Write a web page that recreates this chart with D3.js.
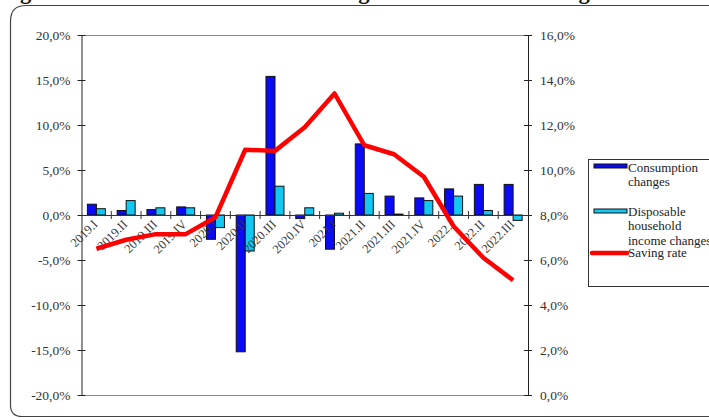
<!DOCTYPE html>
<html>
<head>
<meta charset="utf-8">
<script src="https://cdn.jsdelivr.net/npm/d3@7"></script>
<style>
  html, body { margin: 0; padding: 0; background: #fff; }
  svg { display: block; }
  svg text { font-family: "Liberation Serif", "Times New Roman", serif; }
</style>
</head>
<body>
<svg id="chart" width="709" height="420"></svg>
<script>
const categories = ["2019.I","2019.II","2019.III","2019.IV","2020.I","2020.II","2020.III","2020.IV",
                    "2021.I","2021.II","2021.III","2021.IV","2022.I","2022.II","2022.III"];
const consumptionChanges = [0.012, 0.005, 0.006, 0.009, -0.027, -0.152, 0.154, -0.004,
                            -0.038, 0.079, 0.021, 0.019, 0.029, 0.034, 0.034];
const incomeChanges = [0.007, 0.016, 0.008, 0.008, -0.014, -0.040, 0.032, 0.008,
                       0.002, 0.024, 0.001, 0.016, 0.021, 0.005, -0.006];
const savingRate = [0.065, 0.069, 0.0715, 0.0715, 0.079, 0.109, 0.1085, 0.119,
                    0.134, 0.111, 0.107, 0.097, 0.075, 0.061, 0.051];
const leftTicks = [-0.20, -0.15, -0.10, -0.05, 0, 0.05, 0.10, 0.15, 0.20];
const rightTicks = [0, 0.02, 0.04, 0.06, 0.08, 0.10, 0.12, 0.14, 0.16];
const legendLabels = [["Consumption", "changes"], ["Disposable", "household", "income changes"], ["Saving rate"]];
const titleText = "Figure 4 \u2013 Contributions to the Portuguese Household Saving Rate";

const locale = d3.formatLocale({decimal: ",", thousands: ".", grouping: [3], currency: ["", "\u20ac"], minus: "-"});
const fmt = locale.format(".1%");

const svg = d3.select("#chart");
const L = 81.5, R = 528, T = 35, B = 395;

// clipped title + frame
svg.append("text").attr("x", 0).attr("y", -1.5)
  .attr("font-size", 22.5).attr("font-weight", "bold").attr("fill", "#111")
  .text(titleText);
svg.append("path")
  .attr("d", `M 715 5.5 L 26 5.5 Q 10.5 5.5 10.5 21 L 10.5 405 Q 10.5 416.5 22 416.5 L 715 416.5`)
  .attr("fill", "none").attr("stroke", "#444").attr("stroke-width", 1.2);

const x = d3.scaleBand().domain(categories).range([L, R]).paddingInner(0).paddingOuter(0);
const xSub = d3.scaleBand().domain(["c", "d"]).range([-9, 9]);
const yL = d3.scaleLinear().domain([-0.20, 0.20]).range([B, T]);
const yR = d3.scaleLinear().domain([0, 0.16]).range([B, T]);

// plot area top / bottom lines
svg.append("line").attr("x1", L).attr("x2", R).attr("y1", T + 0.5).attr("y2", T + 0.5).attr("stroke", "#888");
svg.append("line").attr("x1", L).attr("x2", R).attr("y1", B + 0.5).attr("y2", B + 0.5).attr("stroke", "#888");

// left axis
const axL = svg.append("g").attr("transform", `translate(${L},0)`)
  .call(d3.axisLeft(yL).tickValues(leftTicks).tickFormat(fmt).tickSizeInner(4).tickSizeOuter(0).tickPadding(7));
axL.attr("font-family", null);
axL.select(".domain").attr("stroke", "#222");
axL.selectAll(".tick line").attr("x1", 4).attr("x2", -4).attr("stroke", "#222");
axL.selectAll(".tick text").attr("font-size", 13.5).attr("fill", "#333");

// right axis
const axR = svg.append("g").attr("transform", `translate(${R},0)`)
  .call(d3.axisRight(yR).tickValues(rightTicks).tickFormat(fmt).tickSizeInner(4).tickSizeOuter(0).tickPadding(8));
axR.attr("font-family", null);
axR.select(".domain").attr("stroke", "#222");
axR.selectAll(".tick line").attr("x1", -4).attr("x2", 4).attr("stroke", "#222");
axR.selectAll(".tick text").attr("font-size", 13.5).attr("fill", "#333");

// bars
const g = svg.append("g");
g.selectAll("rect.c").data(categories).join("rect").attr("class", "c")
  .attr("x", (d) => x(d) + x.bandwidth() / 2 + xSub("c"))
  .attr("width", xSub.bandwidth())
  .attr("y", (d, i) => yL(Math.max(0, consumptionChanges[i])))
  .attr("height", (d, i) => Math.abs(yL(consumptionChanges[i]) - yL(0)))
  .attr("fill", "#0a0af5").attr("stroke", "#111").attr("stroke-width", 1);
g.selectAll("rect.d").data(categories).join("rect").attr("class", "d")
  .attr("x", (d) => x(d) + x.bandwidth() / 2 + xSub("d"))
  .attr("width", xSub.bandwidth())
  .attr("y", (d, i) => yL(Math.max(0, incomeChanges[i])))
  .attr("height", (d, i) => Math.abs(yL(incomeChanges[i]) - yL(0)))
  .attr("fill", "#12c8f2").attr("stroke", "#111").attr("stroke-width", 1);

// zero axis
const axX = svg.append("g").attr("transform", `translate(0,${yL(0)})`)
  .call(d3.axisBottom(x).tickSize(0).tickFormat(""));
axX.select(".domain").attr("stroke", "#333");
axX.selectAll(".tick").remove();
svg.append("g").selectAll("line").data(categories.slice(1)).join("line")
  .attr("x1", (d) => x(d)).attr("x2", (d) => x(d))
  .attr("y1", yL(0) - 4).attr("y2", yL(0) + 4).attr("stroke", "#333");

// category labels
svg.append("g").selectAll("text").data(categories).join("text")
  .attr("transform", (d) => `translate(${x(d) + x.bandwidth() / 2 + 2},${yL(0) + 10}) rotate(-45)`)
  .attr("text-anchor", "end").attr("font-size", 12.5).attr("fill", "#333")
  .text((d) => d);

// saving rate line
svg.append("path").datum(savingRate)
  .attr("d", d3.line().x((d, i) => x(categories[i]) + x.bandwidth() / 2).y((d) => yR(d)))
  .attr("fill", "none").attr("stroke", "#ff0000").attr("stroke-width", 4.5)
  .attr("stroke-linejoin", "round").attr("stroke-linecap", "butt");

// legend
const lg = svg.append("g");
lg.append("rect").attr("x", 588.5).attr("y", 159.5).attr("width", 140).attr("height", 127)
  .attr("fill", "#fff").attr("stroke", "#333");
const swatches = [{type: "bar", fill: "#0a0af5", y: 164}, {type: "bar", fill: "#12c8f2", y: 209}, {type: "line", fill: "#ff0000", y: 253}];
const textStarts = [172, 216, 257];
swatches.forEach((s, i) => {
  if (s.type === "bar") {
    lg.append("rect").attr("x", 594).attr("y", s.y).attr("width", 33).attr("height", 4)
      .attr("fill", s.fill).attr("stroke", "#111");
  } else {
    lg.append("line").attr("x1", 592).attr("x2", 627).attr("y1", s.y).attr("y2", s.y)
      .attr("stroke", s.fill).attr("stroke-width", 4.5).attr("stroke-linecap", "round");
  }
  legendLabels[i].forEach((t, j) => {
    lg.append("text").attr("x", 628).attr("y", textStarts[i] + j * 14.3)
      .attr("font-size", 13).attr("fill", "#222").text(t);
  });
});
</script>
</body>
</html>
